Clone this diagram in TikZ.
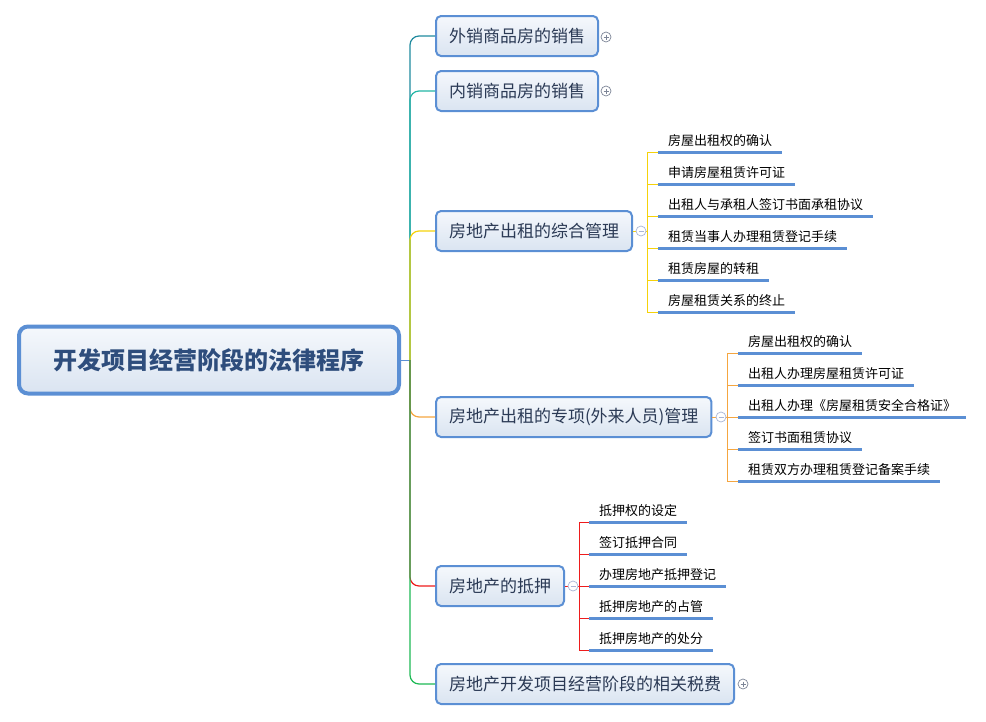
\documentclass[tikz,border=0pt]{standalone}
\usepackage{fontspec}
\newfontfamily\cjk{Noto Sans CJK SC}

\definecolor{boxblue}{HTML}{5B8FD4}
\definecolor{rootText}{HTML}{2E4D7C}
\definecolor{topicText}{HTML}{2B3A55}
\definecolor{shadeTop}{HTML}{F5F8FC}
\definecolor{shadeBottom}{HTML}{DAE4F1}
\definecolor{foldgray}{HTML}{7D8597}
\definecolor{foldlight}{HTML}{A9B5D6}
\definecolor{darkteal}{HTML}{1F8A9E}
\definecolor{lightteal}{HTML}{22B5A5}
\definecolor{rentyellow}{HTML}{F5D20A}
\definecolor{rentorange}{HTML}{F5A640}
\definecolor{pledgered}{HTML}{EE1C1C}
\definecolor{taxgreen}{HTML}{1DB954}

\tikzset{
  root/.style={draw=boxblue, line width=4pt, rounded corners=9pt, top color=shadeTop, bottom color=shadeBottom, minimum width=380pt, minimum height=67pt, font=\cjk\bfseries\fontsize{24}{24}\selectfont, text=rootText},
  topic/.style={anchor=west, draw=boxblue, line width=2pt, rounded corners=5pt, top color=shadeTop, bottom color=shadeBottom, minimum height=40pt, inner xsep=13pt, font=\cjk\fontsize{17}{17}\selectfont, text=topicText},
  leaf/.style={anchor=south west, inner xsep=10pt, inner ysep=4pt, text height=11pt, text depth=2pt, font=\cjk\fontsize{13}{13}\selectfont, text=black},
  underline/.style={boxblue, line width=3pt},
  branch/.style={line width=1.2pt, rounded corners=9pt},
  twig/.style={line width=1pt},
  fold/.style={circle, fill=white, minimum size=10pt, inner sep=0pt, line width=0.7pt},
  foldplus/.style={fold, draw=foldgray, path picture={\draw[foldgray, line width=0.7pt] ([xshift=2.5pt]path picture bounding box.west) -- ([xshift=-2.5pt]path picture bounding box.east) ([yshift=-2.5pt]path picture bounding box.north) -- ([yshift=2.5pt]path picture bounding box.south);}},
  foldminus/.style={fold, draw=foldlight, path picture={\draw[foldlight, line width=0.7pt] ([xshift=2.5pt]path picture bounding box.west) -- ([xshift=-2.5pt]path picture bounding box.east);}}
}

\begin{document}
\begin{tikzpicture}[x=1pt, y=-1pt]

    \useasboundingbox (0,0) rectangle (986,721);

    \coordinate (trunk) at (410,360);
    \coordinate (hub3) at (647,231);
    \coordinate (hub4) at (727,417);
    \coordinate (hub5) at (579,586);

% tema central
\node[root] (root) at (209,360) {开发项目经营阶段的法律程序};

% ramos principais
\node[topic] (br1) at (435,36) {外销商品房的销售};
\node[topic] (br2) at (435,91) {内销商品房的销售};
\node[topic] (br3) at (435,231) {房地产出租的综合管理};
\node[topic] (br4) at (435,417) {房地产出租的专项(外来人员)管理};
\node[topic] (br5) at (435,586) {房地产的抵押};
\node[topic] (br6) at (435,684) {房地产开发项目经营阶段的相关税费};

\draw[boxblue, line width=1pt] (root.east) -- (trunk);
\draw[branch, darkteal] (trunk) |- (br1.west);
\draw[branch, lightteal] (trunk) |- (br2.west);
\draw[branch, rentyellow] (trunk) |- (br3.west);
\draw[branch, rentorange] (trunk) |- (br4.west);
\draw[branch, pledgered] (trunk) |- (br5.west);
\draw[branch, taxgreen] (trunk) |- (br6.west);

% folhas do ramo 3
\node[leaf] (r1) at (658,152) {房屋出租权的确认};
\node[leaf] (r2) at (658,184) {申请房屋租赁许可证};
\node[leaf] (r3) at (658,216) {出租人与承租人签订书面承租协议};
\node[leaf] (r4) at (658,248) {租赁当事人办理租赁登记手续};
\node[leaf] (r5) at (658,280) {租赁房屋的转租};
\node[leaf] (r6) at (658,312) {房屋租赁关系的终止};

\draw[twig, rentyellow] (br3.east) -- (hub3) (hub3) |- (r1.south west) (hub3) |- (r2.south west) (hub3) |- (r3.south west) (hub3) |- (r4.south west) (hub3) |- (r5.south west) (hub3) |- (r6.south west);
\draw[underline] (r1.south west) -- (r1.south east) (r2.south west) -- (r2.south east) (r3.south west) -- (r3.south east) (r4.south west) -- (r4.south east) (r5.south west) -- (r5.south east) (r6.south west) -- (r6.south east);

% folhas do ramo 4
\node[leaf] (s1) at (738,353) {房屋出租权的确认};
\node[leaf] (s2) at (738,385) {出租人办理房屋租赁许可证};
\node[leaf] (s3) at (738,417) {出租人办理《房屋租赁安全合格证》};
\node[leaf] (s4) at (738,449) {签订书面租赁协议};
\node[leaf] (s5) at (738,481) {租赁双方办理租赁登记备案手续};

\draw[twig, rentorange] (br4.east) -- (hub4) (hub4) |- (s1.south west) (hub4) |- (s2.south west) (hub4) |- (s3.south west) (hub4) |- (s4.south west) (hub4) |- (s5.south west);
\draw[underline] (s1.south west) -- (s1.south east) (s2.south west) -- (s2.south east) (s3.south west) -- (s3.south east) (s4.south west) -- (s4.south east) (s5.south west) -- (s5.south east);

% folhas do ramo 5
\node[leaf] (p1) at (589,522) {抵押权的设定};
\node[leaf] (p2) at (589,554) {签订抵押合同};
\node[leaf] (p3) at (589,586) {办理房地产抵押登记};
\node[leaf] (p4) at (589,618) {抵押房地产的占管};
\node[leaf] (p5) at (589,650) {抵押房地产的处分};

\draw[twig, pledgered] (br5.east) -- (hub5) (hub5) |- (p1.south west) (hub5) |- (p2.south west) (hub5) |- (p3.south west) (hub5) |- (p4.south west) (hub5) |- (p5.south west);
\draw[underline] (p1.south west) -- (p1.south east) (p2.south west) -- (p2.south east) (p3.south west) -- (p3.south east) (p4.south west) -- (p4.south east) (p5.south west) -- (p5.south east);

% botoes de abrir e fechar
\node[foldplus] (f1) at (606,37) {};
\node[foldplus] (f2) at (606,91) {};
\node[foldminus] (f3) at (641,231) {};
\node[foldminus] (f4) at (721,417) {};
\node[foldminus] (f5) at (573,586) {};
\node[foldplus] (f6) at (743,684) {};

  \end{tikzpicture}
\end{document}
